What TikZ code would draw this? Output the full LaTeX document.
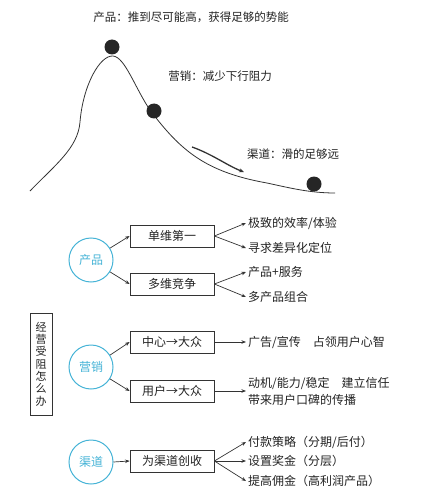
\documentclass[tikz,border=0pt]{standalone}
\usepackage{fontspec}
\setmainfont{Noto Sans CJK SC}
\usetikzlibrary{arrows.meta}
\definecolor{cy}{HTML}{45B3D6}
\definecolor{ln}{HTML}{333333}
\definecolor{tx}{HTML}{222222}
\tikzset{
  every node/.style={font=\fontsize{11.5}{13}\selectfont, text=tx},
  topic/.style={circle, draw=cy, line width=1pt, minimum size=44pt, inner sep=0pt, text=cy, font=\fontsize{12}{13}\selectfont},
  box/.style={draw=ln, line width=0.8pt, minimum width=84pt, minimum height=22pt, inner sep=0pt, font=\fontsize{12}{13}\selectfont},
  leaf/.style={anchor=west, inner sep=2pt, align=left, font=\fontsize{12}{13}\selectfont},
  con/.style={draw=ln, line width=0.7pt, -{Stealth[length=4.5pt,width=3.5pt]}},
  ball/.style={circle, fill=black!85, minimum size=15pt, inner sep=0pt},
}
\begin{document}
\begin{tikzpicture}[x=1pt,y=-1pt]
\useasboundingbox (0,0) rectangle (421,500);
% top hill scene
\node (h1) at (191,17) {产品：推到尽可能高，获得足够的势能};
\node (h2) at (220,76) {营销：减少下行阻力};
\node (h3) at (293,154) {渠道：滑的足够远};
\draw[ln, line width=0.8pt] (30,191) .. controls (55,165) and (78,148) .. (80,122)
  .. controls (83,85) and (100,55) .. (113,56)
  .. controls (125,57) and (135,88) .. (150,110)
  .. controls (180,150) and (205,172) .. (267,183)
  .. controls (290,188) and (310,193) .. (335,193);
\node[ball] (k1) at (112,47) {};
\node[ball] (k2) at (154,111) {};
\node[ball] (k3) at (314,184) {};
\coordinate (a1) at (192,147);
\coordinate (a2) at (244,172);
\draw[ln, line width=1.3pt, -{Stealth[length=5pt,width=4pt]}] (a1) .. controls (212,154) and (228,166) .. (a2);
% left vertical box
\node[draw=ln, line width=0.8pt, minimum width=22pt, minimum height=102pt, inner sep=0pt, align=center,
  font=\fontsize{11}{12.3}\selectfont] (q) at (41,364) {经\\营\\受\\阻\\怎\\么\\办};
% product
\node[topic] (p) at (91,260) {产品};
\node[box] (b1) at (172,236) {单维第一};
\node[box] (b2) at (172,284) {多维竞争};
\node[leaf] (t1) at (246,223) {极致的效率/体验};
\node[leaf] (t2) at (246,248) {寻求差异化定位};
\node[leaf] (t3) at (246,272) {产品+服务};
\node[leaf] (t4) at (246,297) {多产品组合};
\draw[con] (p.32) -- (b1.west);
\draw[con] (p.-32) -- (b2.west);
\draw[con] (b1.east) -- (t1.west);
\draw[con] (b1.east) -- (t2.west);
\draw[con] (b2.east) -- (t3.west);
\draw[con] (b2.east) -- (t4.west);
% marketing
\node[topic] (m) at (91,367) {营销};
\node[box] (b3) at (172,342) {中心→大众};
\node[box] (b4) at (172,391) {用户→大众};
\node[leaf] (t5) at (246,342) {广告/宣传　占领用户心智};
\node[leaf, font=\fontsize{12}{17}\selectfont] (t6) at (246,391) {动机/能力/稳定　建立信任\\带来用户口碑的传播};
\draw[con] (m.32) -- (b3.west);
\draw[con] (m.-32) -- (b4.west);
\draw[con] (b3.east) -- (t5.west);
\draw[con] (b4.east) -- (t6.west);
% channel
\node[topic] (c) at (91,462) {渠道};
\node[box] (b5) at (172,461) {为渠道创收};
\node[leaf] (t7) at (246,442) {付款策略（分期/后付）};
\node[leaf] (t8) at (246,461) {设置奖金（分层）};
\node[leaf] (t9) at (246,481) {提高佣金（高利润产品）};
\draw[con] (c.east) -- (b5.west);
\draw[con] (b5.east) -- (t7.west);
\draw[con] (b5.east) -- (t8.west);
\draw[con] (b5.east) -- (t9.west);
\end{tikzpicture}
\end{document}
